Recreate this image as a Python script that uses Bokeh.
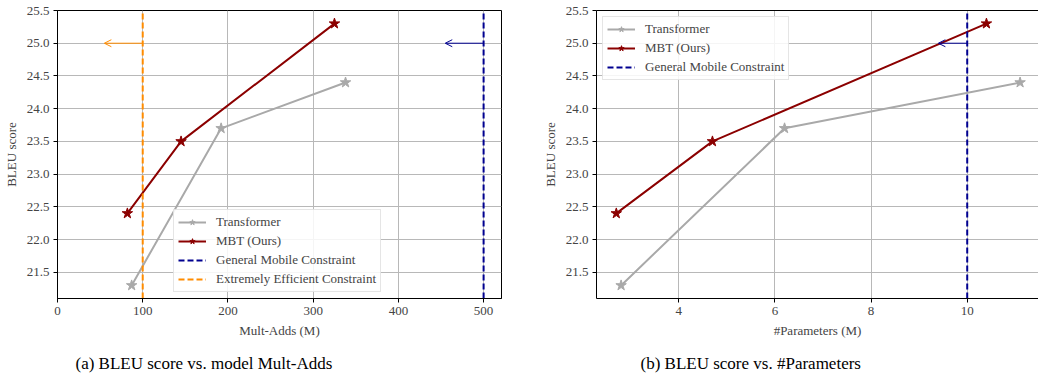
from bokeh.plotting import figure
from bokeh.models import (Range1d, FixedTicker, PrintfTickFormatter, Legend, LegendItem,
                          Arrow, OpenHead, Title, LinearAxis)
from bokeh.layouts import row
from bokeh.embed import file_html
from bokeh.resources import INLINE

# ---------------- data ----------------
bleu_transformer = [21.3, 23.7, 24.4]
bleu_mbt = [22.4, 23.5, 25.3]
multadds_transformer = [87, 192, 338]
multadds_mbt = [82, 145, 325]
params_transformer = [2.8, 6.2, 11.1]
params_mbt = [2.7, 4.7, 10.4]

mobile_multadds = 500
efficient_multadds = 100
mobile_params = 10
arrow_bleu = 25.0
arrow_tip_mobile_multadds = 455
arrow_tip_efficient_multadds = 55
arrow_tip_mobile_params = 9.4

y_ticks = [21.5, 22.0, 22.5, 23.0, 23.5, 24.0, 24.5, 25.0, 25.5]
x_ticks_multadds = [0, 100, 200, 300, 400, 500]
x_ticks_params = [4, 6, 8, 10]

labels = ["Transformer", "MBT (Ours)", "General Mobile Constraint", "Extremely Efficient Constraint"]
captions = ["(a) BLEU score vs. model Mult-Adds", "(b) BLEU score vs. #Parameters"]

# ---------------- style ----------------
FONT = "Liberation Serif"
C_TRANS = "#a9a9a9"
C_MBT = "#8b0000"
C_MOBILE = "#000090"
C_EFF = "#ff8c00"
GRID = "#b8b8b8"
Y_LO, Y_HI = 21.1, 25.5
H = 385


def style_axis(ax):
    ax.major_label_text_font = FONT
    ax.major_label_text_font_size = "13px"
    ax.axis_label_text_font = FONT
    ax.axis_label_text_font_size = "13px"
    ax.axis_label_text_font_style = "normal"
    ax.major_tick_in = 0
    ax.major_tick_out = 4
    ax.major_tick_line_color = "black"
    ax.minor_tick_line_color = None
    ax.major_label_standoff = 4
    ax.axis_label_standoff = 5
    ax.axis_line_color = "black"
    ax.axis_line_width = 1


def make_fig(width, x_range, xticks, xlabel, border_left, border_right):
    p = figure(width=width, height=H, output_backend="svg", toolbar_location=None,
               title=None, x_range=x_range, y_range=Range1d(Y_LO, Y_HI),
               min_border_left=border_left, min_border_right=border_right,
               min_border_top=10, min_border_bottom=87)
    p.background_fill_color = "white"
    p.border_fill_color = "white"
    p.xaxis.ticker = FixedTicker(ticks=xticks)
    p.yaxis.ticker = FixedTicker(ticks=y_ticks)
    p.yaxis.formatter = PrintfTickFormatter(format="%.1f")
    p.xaxis.axis_label = xlabel
    p.yaxis.axis_label = "BLEU score"
    for ax in p.xaxis + p.yaxis:
        style_axis(ax)
    p.xgrid.ticker = FixedTicker(ticks=xticks)
    p.ygrid.ticker = FixedTicker(ticks=y_ticks)
    p.grid.grid_line_color = GRID
    p.grid.grid_line_width = 1
    return p


def add_series(p, xs_t, xs_m):
    lt = p.line(xs_t, bleu_transformer, line_color=C_TRANS, line_width=2)
    st = p.scatter(xs_t, bleu_transformer, marker="star", size=11, fill_color=C_TRANS, line_color=C_TRANS)
    lm = p.line(xs_m, bleu_mbt, line_color=C_MBT, line_width=2)
    sm = p.scatter(xs_m, bleu_mbt, marker="star", size=11, fill_color=C_MBT, line_color=C_MBT)
    return [lt, st], [lm, sm]


def vline(p, x, color):
    return p.line([x, x], [Y_LO, Y_HI], line_color=color, line_width=2, line_dash="6 3")


def arrow(p, x0, x1, color):
    p.add_layout(Arrow(end=OpenHead(size=7, line_color=color, line_width=1),
                       x_start=x0, y_start=arrow_bleu, x_end=x1, y_end=arrow_bleu,
                       line_color=color, line_width=1))


def legend(p, items, location, margin=0):
    lg = Legend(items=items, location=location, label_text_font=FONT, label_text_font_size="13px",
                glyph_width=28, glyph_height=14, label_height=14, label_standoff=10,
                spacing=3, padding=4, margin=margin, border_line_color="#cccccc",
                border_line_width=1, background_fill_alpha=0.85)
    p.add_layout(lg)


def caption(p, text, offset):
    p.add_layout(Title(text=text, align="left", offset=offset, standoff=22,
                       vertical_align="bottom",
                       text_font=FONT, text_font_size="17px", text_font_style="normal",
                       text_color="black"), "below")


# ---------------- left: Mult-Adds ----------------
p1 = make_fig(520, Range1d(0, 521), x_ticks_multadds, "Mult-Adds (M)", 57, 19)
p1.outline_line_color = "black"
p1.outline_line_width = 1
rt, rm = add_series(p1, multadds_transformer, multadds_mbt)
rmob = vline(p1, mobile_multadds, C_MOBILE)
reff = vline(p1, efficient_multadds, C_EFF)
arrow(p1, efficient_multadds, arrow_tip_efficient_multadds, C_EFF)
arrow(p1, mobile_multadds, arrow_tip_mobile_multadds, C_MOBILE)
legend(p1, [LegendItem(label=labels[0], renderers=rt),
            LegendItem(label=labels[1], renderers=rm),
            LegendItem(label=labels[2], renderers=[rmob]),
            LegendItem(label=labels[3], renderers=[reff])], (116, 6))
caption(p1, captions[0], 18)

# ---------------- right: #Parameters ----------------
p2 = make_fig(518, Range1d(2.288, 11.483), x_ticks_params, "#Parameters (M)", 76, 0)
p2.outline_line_color = None
top = LinearAxis(ticker=FixedTicker(ticks=[]), major_tick_line_color=None, major_tick_out=0,
                 major_label_standoff=0, minor_tick_line_color=None,
                 major_label_text_font_size="0px", axis_line_color="black", axis_line_width=1)
p2.add_layout(top, "above")
rt2, rm2 = add_series(p2, params_transformer, params_mbt)
rmob2 = vline(p2, mobile_params, C_MOBILE)
arrow(p2, mobile_params, arrow_tip_mobile_params, C_MOBILE)
legend(p2, [LegendItem(label=labels[0], renderers=rt2),
            LegendItem(label=labels[1], renderers=rm2),
            LegendItem(label=labels[2], renderers=[rmob2])], "top_left", margin=6)
caption(p2, captions[1], 44)

layout = row(p1, p2)
open("out.html", "w").write(file_html(layout, INLINE))
